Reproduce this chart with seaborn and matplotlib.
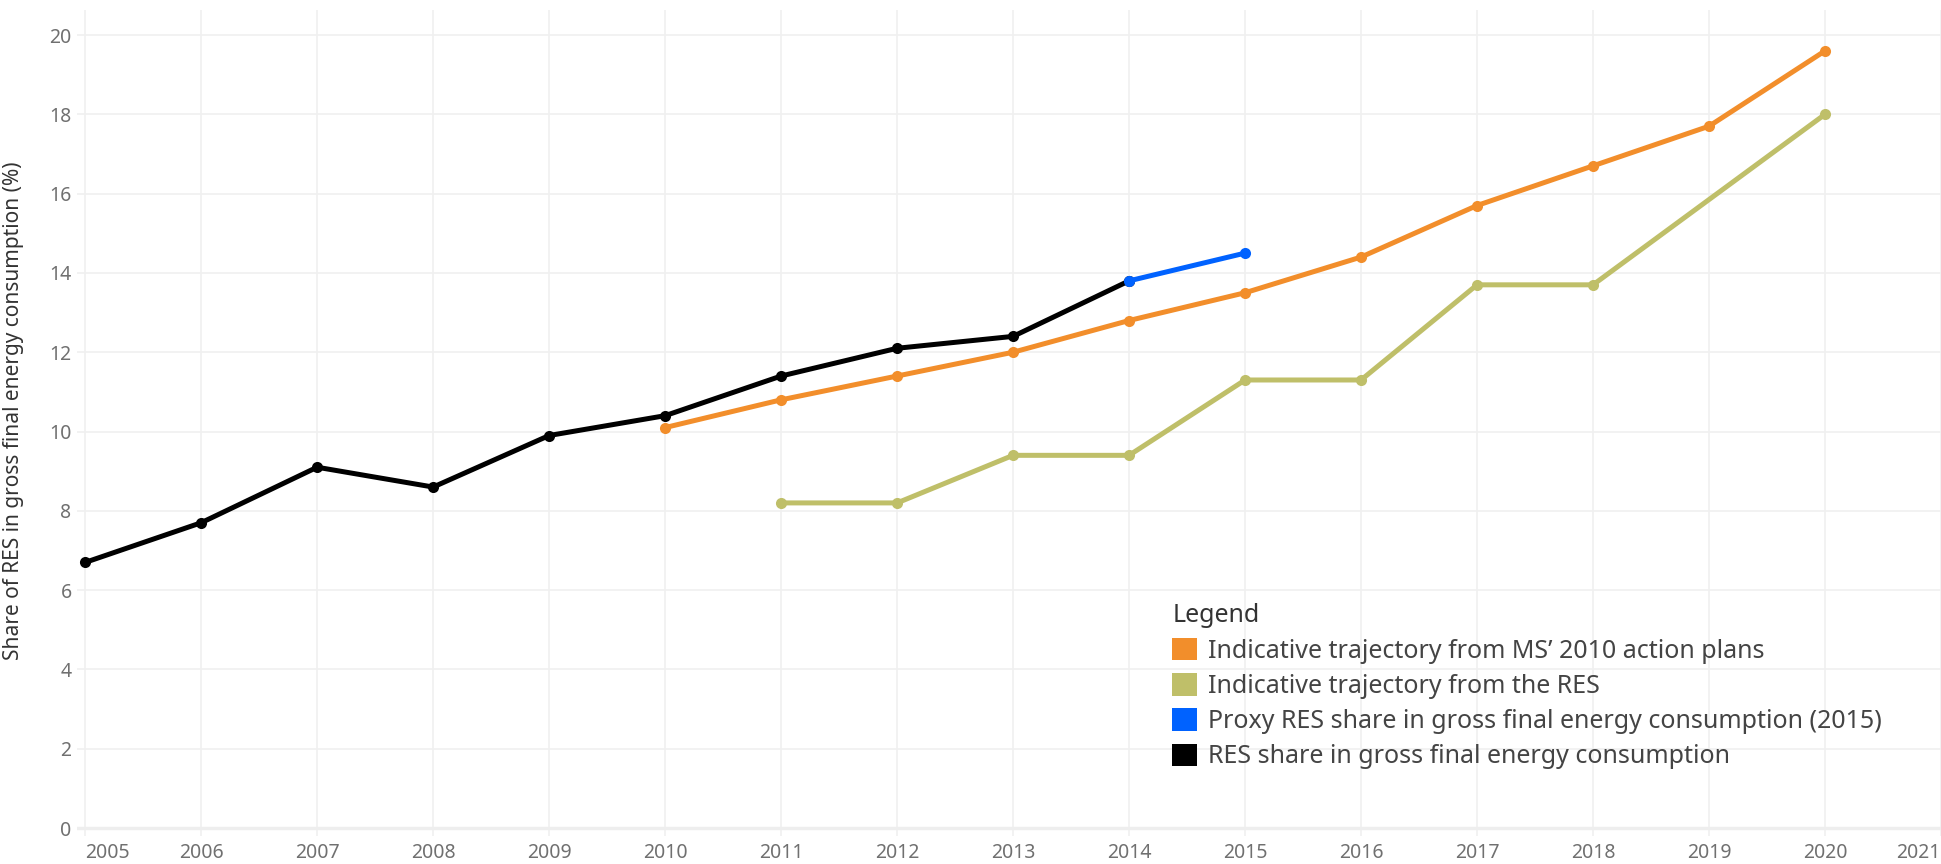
import matplotlib
matplotlib.use('Agg')
import matplotlib.pyplot as plt
from matplotlib.patches import Patch
import seaborn as sns

# --- Data ---
years_res = [2005, 2006, 2007, 2008, 2009, 2010, 2011, 2012, 2013, 2014]
share_res = [6.7, 7.7, 9.1, 8.6, 9.9, 10.4, 11.4, 12.1, 12.4, 13.8]

years_proxy = [2014, 2015]
share_proxy = [13.8, 14.5]

years_nreap = [2010, 2011, 2012, 2013, 2014, 2015, 2016, 2017, 2018, 2019, 2020]
share_nreap = [10.1, 10.8, 11.4, 12.0, 12.8, 13.5, 14.4, 15.7, 16.7, 17.7, 19.6]

years_red = [2011, 2012, 2013, 2014, 2015, 2016, 2017, 2018, 2020]
share_red = [8.2, 8.2, 9.4, 9.4, 11.3, 11.3, 13.7, 13.7, 18.0]

labels = [
    "Indicative trajectory from MS\u2019 2010 action plans",
    "Indicative trajectory from the RES",
    "Proxy RES share in gross final energy consumption (2015)",
    "RES share in gross final energy consumption",
]
colors = ["#F28E2B", "#BFBF69", "#0062FF", "#000000"]

x_ticks = list(range(2005, 2022))
y_ticks = list(range(0, 21, 2))

# --- Style ---
sns.set_style("white")
plt.rcParams['font.family'] = ['Noto Sans', 'DejaVu Sans']

fig = plt.figure(figsize=(19.41, 8.64), dpi=100)
ax = fig.add_axes([0.0397, 0.0324, 0.9603, 0.956])

# order of drawing: trajectories first, measured share, proxy on top
series = [
    (years_nreap, share_nreap, colors[0], 3),
    (years_red, share_red, colors[1], 3),
    (years_res, share_res, colors[3], 4),
    (years_proxy, share_proxy, colors[2], 5),
]
for xs, ys, c, z in series:
    sns.lineplot(x=xs, y=ys, color=c, linewidth=3.6, marker='o', markersize=8,
                 markeredgewidth=0, ax=ax, zorder=z)

ax.set_xlim(2004.93, 2021.0)
ax.set_ylim(-0.2, 20.63)

ax.set_xticks(x_ticks)
ax.set_xticklabels([str(y) for y in x_ticks], fontsize=14, color='#707070')
xt = ax.get_xticklabels()
xt[0].set_ha('left')
xt[-1].set_ha('right')
ax.set_yticks(y_ticks)
ax.set_yticklabels([str(v) for v in y_ticks], fontsize=14, color='#707070')
ax.tick_params(axis='x', length=0, pad=5)
ax.tick_params(axis='y', length=0, pad=4)

ax.grid(True, color='#f0f0f0', linewidth=1.2)
ax.axhline(0, color='#eeeeee', linewidth=2.5, zorder=1)
sns.despine(ax=ax, left=True, bottom=True)

ax.set_xlabel('')
ax.set_ylabel('Share of RES in gross final energy consumption (%)', fontsize=15, color='#333333')
ax.yaxis.set_label_coords(-0.0285, 0.515)

# legend with coloured squares
handles = [Patch(facecolor=c, edgecolor='none', label=l) for c, l in zip(colors, labels)]
leg = fig.legend(handles=handles, loc='upper left', bbox_to_anchor=(0.5975, 0.316),
                 frameon=False, title='Legend', alignment='left', fontsize=18,
                 title_fontsize=18, handlelength=1.0, handleheight=1.0,
                 handletextpad=0.45, labelspacing=0.38, borderpad=0,
                 labelcolor='#444444')
leg.get_title().set_color('#333333')

plt.savefig('out.png', dpi=100)
print("saved")
